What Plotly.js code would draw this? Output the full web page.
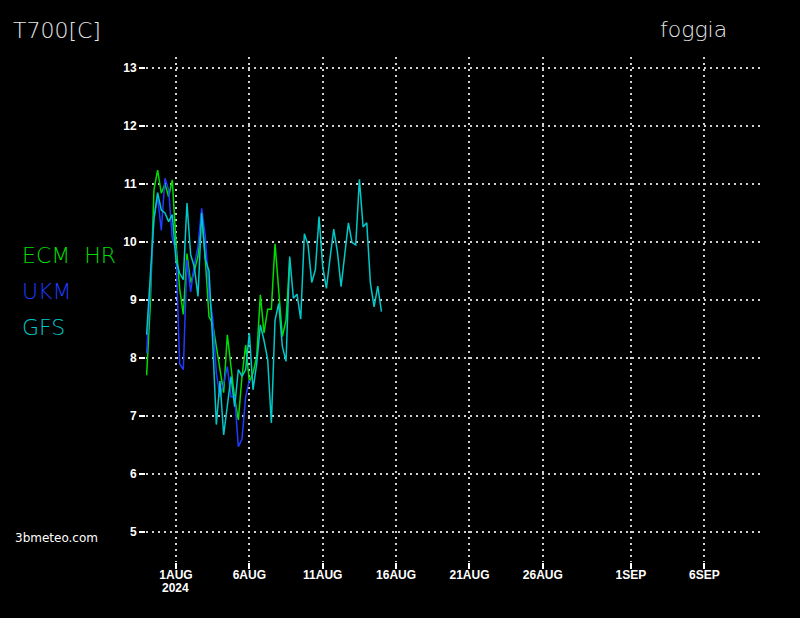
<!DOCTYPE html>
<html>
<head>
<meta charset="utf-8">
<script src="https://cdn.plot.ly/plotly-3.0.1.min.js"></script>
<style>
  html, body { margin: 0; padding: 0; background: #000; }
  #chart { width: 800px; height: 618px; }
</style>
</head>
<body>
<div id="chart"></div>
<script>
// ---- data (6-hourly, first value at 2024-07-30 00:00 UTC) ----
const seriesStart = '2024-07-30T00:00:00Z';
const stepHours = 6;

const ecmHR = [7.7, 8.9, 10.9, 11.24, 10.84, 11.0, 10.78, 11.07,
  10.0, 9.2, 8.75, 9.8, 9.3, 9.5, 9.75, 10.5,
  9.7, 8.71, 8.6, 8.22, 7.85, 7.4, 8.4, 7.9,
  7.3, 6.93, 7.68, 8.22, 7.59, 7.74, 8.02, 9.09,
  8.43, 8.84, 8.84, 9.97, 9.09, 8.37, 8.65, 9.7];

const ukm = [8.08, 9.2, 10.4, 10.78, 10.2, 11.1, 10.9, 10.06,
  9.86, 7.9, 7.8, 9.69, 9.14, 9.6, 9.92, 10.58,
  10.1, 9.1, 8.7, 7.74, 7.33, 7.56, 7.85, 7.33,
  7.33, 6.47, 6.6, 7.33, 7.62];

const gfs = [8.4, 9.4, 10.4, 10.85, 10.55, 10.5, 10.35, 10.47,
  9.69, 9.46, 9.35, 10.67, 9.78, 9.57, 9.06, 10.5,
  9.7, 9.5, 8.3, 6.85, 7.6, 6.67, 7.16, 7.68,
  7.16, 7.8, 7.68, 7.8, 8.43, 7.45, 7.9, 8.57,
  8.3, 7.97, 6.88, 8.65, 8.94, 8.2, 7.94, 9.75,
  9.03, 9.1, 8.67, 10.14, 9.95, 9.3, 9.52, 10.44,
  9.57, 9.2, 9.72, 10.22, 9.83, 9.23, 9.78, 10.33,
  9.99, 9.95, 11.08, 10.26, 10.33, 9.29, 8.88, 9.24, 8.8];

const seriesNames = ['ECM  HR', 'UKM', 'GFS'];
const seriesColors = ['#00dd00', '#1f3bff', '#00c8c8'];

const tickDates = ['2024-08-01', '2024-08-06', '2024-08-11', '2024-08-16',
  '2024-08-21', '2024-08-26', '2024-09-01', '2024-09-06'];
const tickLabels = ['1AUG', '6AUG', '11AUG', '16AUG',
  '21AUG', '26AUG', '1SEP', '6SEP'];
const yearLabel = '2024';
const yearDate = '2024-08-01';
const yTicks = [5, 6, 7, 8, 9, 10, 11, 12, 13];

const chartTitle = 'T700[C]';
const placeName = 'foggia';
const sourceName = '3bmeteo.com';

// ---- build ----
function pad(n) { return String(n).padStart(2, '0'); }
function timesFor(values) {
  const t0 = Date.parse(seriesStart);
  return values.map((_, i) => {
    const d = new Date(t0 + i * stepHours * 3600 * 1000);
    return d.getUTCFullYear() + '-' + pad(d.getUTCMonth() + 1) + '-' + pad(d.getUTCDate()) +
      ' ' + pad(d.getUTCHours()) + ':' + pad(d.getUTCMinutes());
  });
}

const allSeries = [ecmHR, ukm, gfs];
const traces = allSeries.map((vals, i) => ({
  type: 'scatter',
  mode: 'lines',
  x: timesFor(vals),
  y: vals,
  name: seriesNames[i],
  line: { color: seriesColors[i], width: 1.5 },
  showlegend: false,
  hoverinfo: 'skip'
}));

const thin = { family: 'DejaVu Sans, sans-serif', size: 22, weight: 200 };
const tickFont = { family: 'Liberation Sans, Arial, sans-serif', size: 12, color: '#ffffff', weight: 'bold' };

// plot area: left 146, width 617, top 57, height 505
const PL = 146, PW = 617, PT = 57, PH = 505;
const px = x => (x - PL) / PW;
const py = y => 1 - (y - PT) / PH;

const legendRows = [255, 291, 327];
const legendAnn = seriesNames.map((n, i) => ({
  text: n, xref: 'paper', yref: 'paper',
  x: px(20), xanchor: 'left',
  y: py(legendRows[i]), yanchor: 'middle',
  showarrow: false,
  font: Object.assign({}, thin, { color: seriesColors[i] })
}));

const layout = {
  width: 800, height: 618,
  paper_bgcolor: '#000', plot_bgcolor: '#000',
  margin: { l: PL, r: 800 - PL - PW, t: PT, b: 618 - PT - PH },
  title: {
    text: chartTitle, xref: 'container', yref: 'container',
    x: 13 / 800, xanchor: 'left', y: 1 - 30 / 618, yanchor: 'middle',
    font: Object.assign({}, thin, { color: '#e6e6e6' })
  },
  xaxis: {
    type: 'date',
    range: ['2024-07-29 23:00', '2024-09-10 00:00'],
    tickmode: 'array', tickvals: tickDates, ticktext: tickLabels,
    showgrid: true, gridcolor: '#cfcfcf', gridwidth: 2, griddash: '2px,4px',
    ticks: 'outside', ticklen: 6, tickwidth: 2, tickcolor: '#ffffff',
    ticklabelstandoff: -4,
    tickfont: tickFont,
    showline: false, zeroline: false, fixedrange: true
  },
  yaxis: {
    range: [4.48, 13.19],
    tickmode: 'array', tickvals: yTicks,
    showgrid: true, gridcolor: '#cfcfcf', gridwidth: 2, griddash: '2px,4px',
    ticks: 'outside', ticklen: 6, tickwidth: 2, tickcolor: '#ffffff',
    tickfont: tickFont,
    showline: false, zeroline: false, fixedrange: true
  },
  annotations: [
    {
      text: placeName, xref: 'paper', yref: 'paper',
      x: px(658), xanchor: 'left',
      y: py(30), yanchor: 'middle',
      showarrow: false,
      font: Object.assign({}, thin, { color: '#e6e6e6' })
    },
    {
      text: sourceName, xref: 'paper', yref: 'paper',
      x: px(13), xanchor: 'left',
      y: py(538), yanchor: 'middle',
      showarrow: false,
      font: { family: 'DejaVu Sans, sans-serif', size: 12, color: '#ffffff' }
    },
    {
      text: yearLabel, xref: 'x', yref: 'paper',
      x: yearDate, xanchor: 'center',
      y: py(580), yanchor: 'top',
      showarrow: false, borderpad: 0,
      font: tickFont
    }
  ].concat(legendAnn),
  showlegend: false
};

Plotly.newPlot('chart', traces, layout, { staticPlot: true, displayModeBar: false });
</script>
</body>
</html>
